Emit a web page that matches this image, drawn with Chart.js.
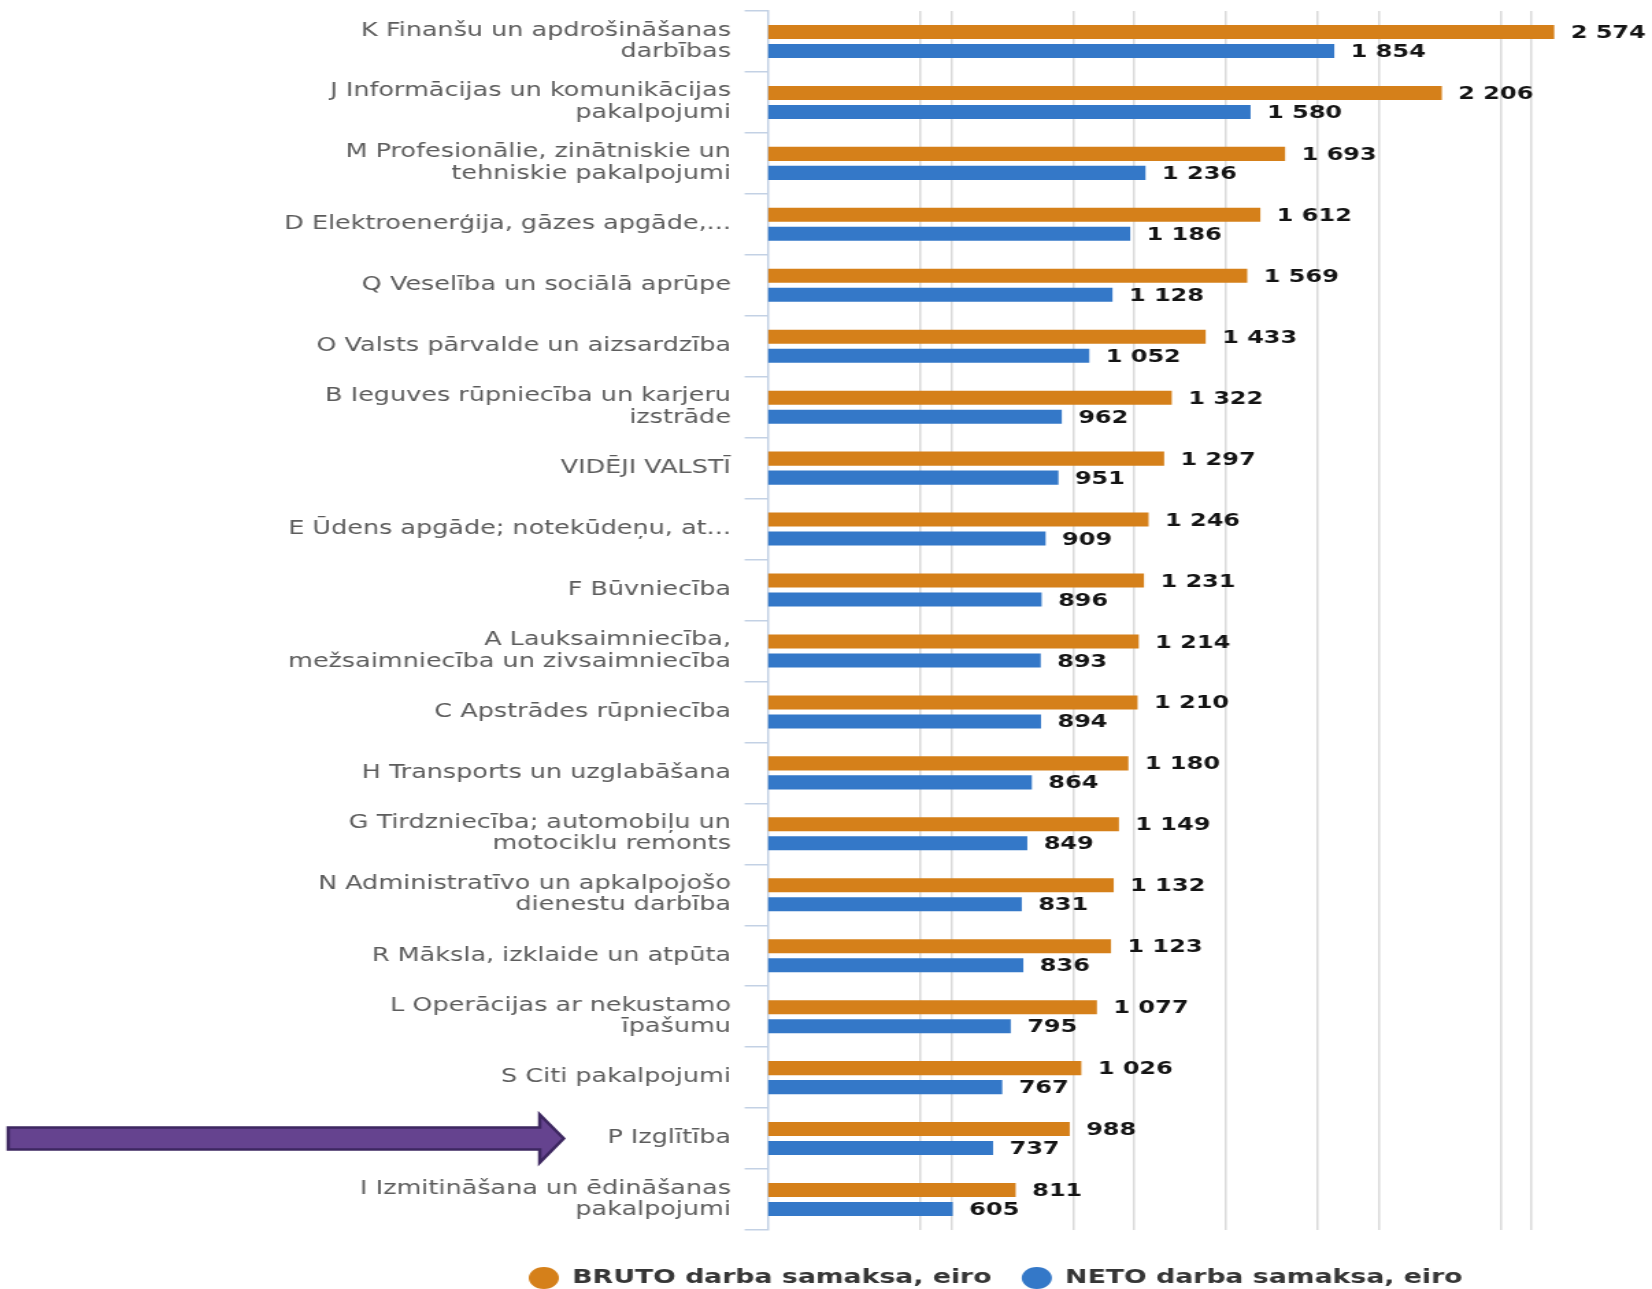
<!DOCTYPE html>
<html>
<head>
<meta charset="utf-8">
<script src="https://cdn.jsdelivr.net/npm/chart.js@4.4.1/dist/chart.umd.min.js"></script>
<style>
html,body{margin:0;padding:0;background:#ffffff;overflow:hidden;}
#wrap{position:absolute;left:0;top:0;width:1206px;height:1289px;transform:scaleX(1.369818);transform-origin:0 0;}
</style>
</head>
<body>
<div id="wrap"><canvas id="c" width="1206" height="1289" style="width:1206px;height:1289px;"></canvas></div>
<script>
const categories = [
  ["K Finanšu un apdrošināšanas", "darbības"],
  ["J Informācijas un komunikācijas", "pakalpojumi"],
  ["M Profesionālie, zinātniskie un", "tehniskie pakalpojumi"],
  "D Elektroenerģija, gāzes apgāde,...",
  "Q Veselība un sociālā aprūpe",
  "O Valsts pārvalde un aizsardzība",
  ["B Ieguves rūpniecība un karjeru", "izstrāde"],
  "VIDĒJI VALSTĪ",
  "E Ūdens apgāde; notekūdeņu, at...",
  "F Būvniecība",
  ["A Lauksaimniecība,", "mežsaimniecība un zivsaimniecība"],
  "C Apstrādes rūpniecība",
  "H Transports un uzglabāšana",
  ["G Tirdzniecība; automobiļu un", "motociklu remonts"],
  ["N Administratīvo un apkalpojošo", "dienestu darbība"],
  "R Māksla, izklaide un atpūta",
  ["L Operācijas ar nekustamo", "īpašumu"],
  "S Citi pakalpojumi",
  "P Izglītība",
  ["I Izmitināšana un ēdināšanas", "pakalpojumi"]
];
const brutoValues = [2574, 2206, 1693, 1612, 1569, 1433, 1322, 1297, 1246, 1231, 1214, 1210, 1180, 1149, 1132, 1123, 1077, 1026, 988, 811];
const netoValues  = [1854, 1580, 1236, 1186, 1128, 1052, 962, 951, 909, 896, 893, 894, 864, 849, 831, 836, 795, 767, 737, 605];
const seriesNames = ["BRUTO darba samaksa, eiro", "NETO darba samaksa, eiro"];
const highlightedCategory = "P Izglītība";
const axisMax = 2894;
const gridStepsA = 500;
const gridStepsB = 600;

const FONT = '"DejaVu Sans", Verdana, sans-serif';
const LEGEND_FONT_SIZE = 19.5;
const LEGEND_X = 386;
const LEGEND_CY = 1278;

function fmt(v) {
  return String(v).replace(/\B(?=(\d{3})+(?!\d))/g, ' ');
}

const valueLabels = {
  id: 'valueLabels',
  afterDatasetsDraw(chart) {
    const ctx = chart.ctx;
    ctx.save();
    ctx.font = 'bold 17.5px ' + FONT;
    ctx.fillStyle = '#141414';
    ctx.textAlign = 'left';
    ctx.textBaseline = 'middle';
    chart.data.datasets.forEach((ds, di) => {
      const meta = chart.getDatasetMeta(di);
      meta.data.forEach((el, i) => {
        ctx.fillText(fmt(ds.data[i]), el.x + 12, el.y + 1.5);
      });
    });
    ctx.restore();
  }
};

const legendPlacer = {
  id: 'legendPlacer',
  afterLayout(chart) {
    const lg = chart.legend;
    if (!lg || !lg.lineWidths) return;
    const pad = lg.options.labels.padding;
    const startX = (lg.left + pad + lg.right - lg.lineWidths[0]) / 2;
    const dx = LEGEND_X - startX;
    lg.left += dx; lg.right += dx;
    const cy = lg.top + pad + LEGEND_FONT_SIZE / 2;
    const dy = LEGEND_CY - cy;
    lg.top += dy; lg.bottom += dy;
  }
};

const arrowMarker = {
  id: 'arrowMarker',
  afterDraw(chart) {
    const idx = categories.findIndex(c => (Array.isArray(c) ? c[0] : c) === highlightedCategory);
    if (idx < 0) return;
    const y = chart.scales.y.getPixelForValue(idx);
    const ctx = chart.ctx;
    const x0 = 6, xb = 394, xt = 411.5, hs = 11, hh = 24;
    ctx.save();
    ctx.beginPath();
    ctx.moveTo(x0, y - hs);
    ctx.lineTo(xb, y - hs);
    ctx.lineTo(xb, y - hh);
    ctx.lineTo(xt, y);
    ctx.lineTo(xb, y + hh);
    ctx.lineTo(xb, y + hs);
    ctx.lineTo(x0, y + hs);
    ctx.closePath();
    ctx.fillStyle = '#65438F';
    ctx.fill();
    ctx.lineWidth = 2.5;
    ctx.strokeStyle = '#3D2760';
    ctx.stroke();
    ctx.restore();
  }
};

const chart = new Chart(document.getElementById('c'), {
  type: 'bar',
  data: {
    labels: categories,
    datasets: [
      { label: seriesNames[0], data: brutoValues, backgroundColor: '#D5801A', borderWidth: 0,
        categoryPercentage: 0.623, barPercentage: 0.74 },
      { label: seriesNames[1], data: netoValues, backgroundColor: '#3478C8', borderWidth: 0,
        categoryPercentage: 0.623, barPercentage: 0.74 }
    ]
  },
  options: {
    indexAxis: 'y',
    responsive: false,
    animation: false,
    devicePixelRatio: 1,
    layout: { padding: { top: 11, left: 0, right: 0, bottom: 7.5 } },
    scales: {
      x: {
        type: 'linear',
        min: 0,
        max: axisMax,
        afterBuildTicks(scale) {
          const vals = [];
          for (let v = gridStepsA; v < axisMax; v += gridStepsA) vals.push(v);
          for (let v = gridStepsB; v < axisMax; v += gridStepsB) if (!vals.includes(v)) vals.push(v);
          vals.sort((a, b) => a - b);
          scale.ticks = vals.map(v => ({ value: v }));
        },
        ticks: { display: false },
        border: { display: false },
        grid: {
          drawTicks: false,
          lineWidth: 1.5,
          color: '#DADADA'
        }
      },
      y: {
        afterFit(scale) {
          scale.width = 560.6;
          scale.paddingTop = 0;
          scale.paddingBottom = 0;
        },
        ticks: {
          color: '#5C5C5C',
          font: { family: FONT, size: 18.6, lineHeight: 1.16 },
          padding: 10,
          autoSkip: false
        },
        border: { display: true, color: '#C3D1E4', width: 1.5 },
        grid: {
          offset: true,
          drawOnChartArea: false,
          drawTicks: true,
          tickLength: 17,
          color: '#C3D1E4',
          lineWidth: 1.5
        }
      }
    },
    plugins: {
      legend: {
        position: 'bottom',
        labels: {
          usePointStyle: true,
          pointStyle: 'circle',
          boxHeight: 15.5,
          pointStyleWidth: 22,
          padding: 22,
          color: '#363636',
          font: { family: FONT, size: LEGEND_FONT_SIZE, weight: 'bold' }
        }
      },
      tooltip: { enabled: false }
    }
  },
  plugins: [valueLabels, legendPlacer, arrowMarker]
});
</script>
</body>
</html>
